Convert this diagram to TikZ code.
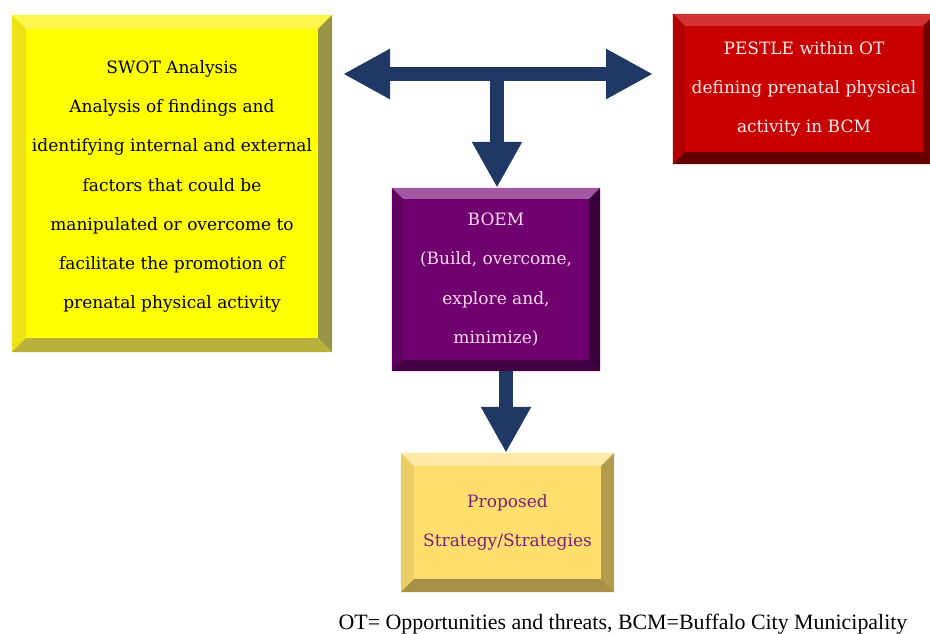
\documentclass[tikz,border=0pt]{standalone}
\usepackage{fontspec}
\newfontfamily\notefont{Liberation Serif}
\newfontfamily\boxfont{DejaVu Serif}
\usetikzlibrary{arrows.meta,calc}

\definecolor{navy}{HTML}{1F3864}
\definecolor{swotface}{HTML}{FFFF00}
\definecolor{pestface}{HTML}{C80000}
\definecolor{boemface}{HTML}{700070}
\definecolor{stratface}{HTML}{FFDE6E}
\definecolor{strattext}{HTML}{7A1F7A}

% four bevel strips round a node: #1 node, #2 width, #3 top, #4 left, #5 right, #6 bottom
\newcommand{\bevelframe}[6]{%
  \fill[#3] (#1.north west) -- (#1.north east) -- ($(#1.north east)+(-#2pt,-#2pt)$) -- ($(#1.north west)+(#2pt,-#2pt)$) -- cycle;
  \fill[#4] (#1.north west) -- ($(#1.north west)+(#2pt,-#2pt)$) -- ($(#1.south west)+(#2pt,#2pt)$) -- (#1.south west) -- cycle;
  \fill[#5] (#1.north east) -- ($(#1.north east)+(-#2pt,-#2pt)$) -- ($(#1.south east)+(-#2pt,#2pt)$) -- (#1.south east) -- cycle;
  \fill[#6] (#1.south west) -- ($(#1.south west)+(#2pt,#2pt)$) -- ($(#1.south east)+(-#2pt,#2pt)$) -- (#1.south east) -- cycle;
}

\tikzset{
  box/.style={rectangle, inner sep=0pt, align=center, font=\boxfont\fontsize{17}{39.3}\selectfont},
  bigarrow/.style={draw=navy, line width=14pt, -{Triangle[length=46pt,width=47pt]}},
}

\begin{document}
\begin{tikzpicture}[x=1pt,y=-1pt]
  \useasboundingbox (0,0) rectangle (930,633);

  % boxes
  \node[box, fill=swotface, minimum width=320pt, minimum height=337pt] (swot) at (172,183.5) {};
  \node[box, fill=pestface, minimum width=262pt, minimum height=150pt] (pestle) at (804,89) {};
  \node[box, fill=boemface, minimum width=208pt, minimum height=183pt] (boem) at (496,279.5) {};
  \node[box, fill=stratface, minimum width=213pt, minimum height=139pt] (strat) at (507.5,522.5) {};

  \bevelframe{swot}{14}{yellow!70!white}{yellow!92!black}{yellow!55!black}{yellow!68!black}
  \bevelframe{pestle}{12}{pestface!80!white}{pestface!90!black}{pestface!55!black}{pestface!50!black}
  \bevelframe{boem}{11}{boemface!65!white}{boemface!85!black}{boemface!50!black}{boemface!60!black}
  \bevelframe{strat}{13}{stratface!60!white}{stratface!92!black}{stratface!70!black}{stratface!65!black}

  % texts
  \node[box] at ([yshift=-3pt]swot.center) {SWOT Analysis\\Analysis of findings and\\identifying internal and external\\factors that could be\\manipulated or overcome to\\facilitate the promotion of\\prenatal physical activity};
  \node[box, text=white!92!red] at (pestle) {PESTLE within OT\\defining prenatal physical\\activity in BCM};
  \node[box, text=white!85!magenta] at (boem) {BOEM\\(Build, overcome,\\explore and,\\minimize)};
  \node[box, text=strattext] at (strat) {Proposed\\Strategy/Strategies};

  % arrows
  \coordinate (hl) at (343,74);
  \coordinate (hr) at (653,74);
  \coordinate (jn) at (497,74);
  \coordinate (sx) at (506,0);
  \draw[bigarrow, {Triangle[length=47pt,width=47pt]}-{Triangle[length=47pt,width=47pt]}] (hl) -- (hr);
  \draw[bigarrow] (jn) -- (jn |- boem.north);
  \draw[bigarrow] (boem.south -| sx) -- (strat.north -| sx);

  \node[font=\notefont\fontsize{21.9}{24}\selectfont, anchor=base] (note) at (623,629)
    {OT= Opportunities and threats, BCM=Buffalo City Municipality};
\end{tikzpicture}
\end{document}
